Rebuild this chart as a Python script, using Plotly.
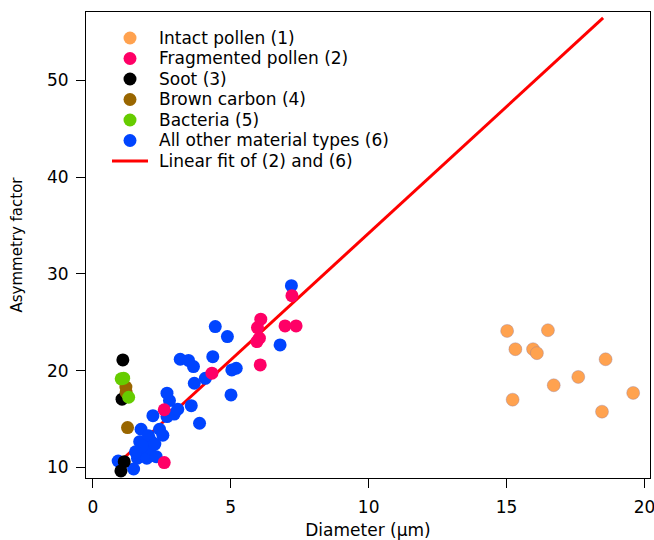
import plotly.graph_objects as go

# Intact pollen (1)
pollen_x = [15.02, 16.50, 15.32, 15.96, 16.10, 18.59, 17.60, 16.71, 15.22, 19.59, 18.46]
pollen_y = [24.10, 24.17, 22.21, 22.21, 21.80, 21.17, 19.34, 18.48, 16.99, 17.69, 15.75]

# Fragmented pollen (2)
frag_x = [2.59, 2.59, 4.32, 5.97, 6.09, 6.04, 5.95, 6.97, 7.37, 6.07, 7.22]
frag_y = [10.48, 15.95, 19.73, 24.45, 25.31, 23.35, 23.00, 24.62, 24.62, 20.58, 27.74]

# Soot (3)
soot_x = [1.09, 1.06, 1.14, 1.02]
soot_y = [21.10, 17.04, 10.58, 9.62]

# Brown carbon (4)
brown_x = [1.20, 1.21, 1.26]
brown_y = [18.30, 17.75, 14.10]

# Bacteria (5)
bact_x = [1.12, 1.30, 1.03]
bact_y = [19.21, 17.24, 19.15]

# All other material types (6)
other_x = [0.92, 1.48, 1.62, 1.72, 1.84, 1.96, 2.08, 1.70, 2.08, 1.75, 2.02, 2.42,
           2.54, 2.18, 2.69, 2.95, 3.08, 2.78, 2.69, 3.57, 3.87, 3.17, 3.47, 3.65,
           4.35, 4.08, 3.68, 5.04, 5.20, 5.01, 4.44, 4.88, 6.79, 7.20, 1.80, 2.25,
           1.55, 2.30]
other_y = [10.65, 9.82, 10.93, 11.45, 11.79, 10.93, 11.97, 12.65, 12.82, 13.93, 13.27, 13.93,
           13.31, 15.34, 15.24, 15.50, 16.00, 16.90, 17.66, 16.37, 14.55, 21.17, 21.05, 20.41,
           21.44, 19.20, 18.69, 20.07, 20.24, 17.48, 24.55, 23.51, 22.65, 28.78, 12.20, 12.40,
           11.60, 11.10]

# Linear fit of (2) and (6): y = slope * x + intercept over the plotted range
fit_slope = 2.62
fit_intercept = 8.0
fit_range = [1.0, 18.5]
fit_x = fit_range
fit_y = [fit_slope * v + fit_intercept for v in fit_range]

x_ticks = [0, 5, 10, 15, 20]
y_ticks = [10, 20, 30, 40, 50]

FONT = "DejaVu Sans, Arial, sans-serif"
FS = 17
MS = 13

# figure / plot-area geometry in pixels
W, H = 654, 540
ML, MR, MT, MB = 86, 4, 12, 62
PW, PH = W - ML - MR, H - MT - MB

COLORS = {
    "pollen": "#FFA24F",
    "frag": "#FF0066",
    "soot": "#000000",
    "brown": "#996600",
    "bact": "#66CC00",
    "other": "#0044FF",
    "fit": "#FF0000",
}

fig = go.Figure()

# drawing order: fit line beneath the markers
fig.add_trace(go.Scatter(x=fit_x, y=fit_y, mode="lines", name="Linear fit of (2) and (6)",
                         line=dict(color=COLORS["fit"], width=3)))
fig.add_trace(go.Scatter(x=other_x, y=other_y, mode="markers", name="All other material types (6)",
                         marker=dict(size=MS, color=COLORS["other"], line=dict(width=0))))
fig.add_trace(go.Scatter(x=soot_x, y=soot_y, mode="markers", name="Soot (3)",
                         marker=dict(size=MS, color=COLORS["soot"], line=dict(width=0))))
fig.add_trace(go.Scatter(x=brown_x, y=brown_y, mode="markers", name="Brown carbon (4)",
                         marker=dict(size=MS, color=COLORS["brown"], line=dict(width=0))))
fig.add_trace(go.Scatter(x=bact_x, y=bact_y, mode="markers", name="Bacteria (5)",
                         marker=dict(size=MS, color=COLORS["bact"], line=dict(width=0))))
fig.add_trace(go.Scatter(x=frag_x, y=frag_y, mode="markers", name="Fragmented pollen (2)",
                         marker=dict(size=MS, color=COLORS["frag"], line=dict(width=0))))
fig.add_trace(go.Scatter(x=pollen_x, y=pollen_y, mode="markers", name="Intact pollen (1)",
                         marker=dict(size=MS, color=COLORS["pollen"],
                                     line=dict(width=0.6, color="rgba(140,120,160,0.6)"))))

# compact legend drawn in the upper-left corner of the plot area
legend_entries = [
    ("Intact pollen (1)", "pollen", "dot"),
    ("Fragmented pollen (2)", "frag", "dot"),
    ("Soot (3)", "soot", "dot"),
    ("Brown carbon (4)", "brown", "dot"),
    ("Bacteria (5)", "bact", "dot"),
    ("All other material types (6)", "other", "dot"),
    ("Linear fit of (2) and (6)", "fit", "line"),
]


def px_to_paper(px, py):
    return (px - ML) / PW, (H - MB - py) / PH


shapes, annotations = [], []
row0, row_step = 38, 20.5
sym_x, text_x = 130, 157
for i, (label, key, kind) in enumerate(legend_entries):
    py = row0 + row_step * i
    sx, sy = px_to_paper(sym_x, py)
    if kind == "dot":
        shapes.append(dict(type="circle", xref="paper", yref="paper",
                           xsizemode="pixel", ysizemode="pixel", xanchor=sx, yanchor=sy,
                           x0=-MS / 2, x1=MS / 2, y0=-MS / 2, y1=MS / 2,
                           fillcolor=COLORS[key], line=dict(width=0)))
    else:
        lx0, ly = px_to_paper(112, py)
        lx1, _ = px_to_paper(148, py)
        shapes.append(dict(type="line", xref="paper", yref="paper",
                           x0=lx0, x1=lx1, y0=ly, y1=ly,
                           line=dict(color=COLORS[key], width=3)))
    tx, ty = px_to_paper(text_x, py)
    annotations.append(dict(text=label, xref="paper", yref="paper", x=tx, y=ty,
                            xanchor="left", yanchor="middle", showarrow=False,
                            font=dict(family=FONT, size=FS, color="black")))

axis_common = dict(showline=True, linecolor="black", linewidth=1, mirror=True,
                   ticks="outside", ticklen=9, tickwidth=1, tickcolor="black",
                   showgrid=False, zeroline=False, ticklabeloverflow="allow",
                   tickfont=dict(family=FONT, size=FS, color="black"))

fig.update_xaxes(range=[-0.246, 20.2], tickvals=x_ticks, ticklabelstandoff=5,
                 title=dict(text="Diameter (μm)", font=dict(family=FONT, size=FS, color="black"),
                            standoff=8),
                 **axis_common)
fig.update_yaxes(range=[8.89, 57.08], tickvals=y_ticks, ticklabelstandoff=4,
                 title=dict(text="Asymmetry factor", font=dict(family=FONT, size=15, color="black"),
                            standoff=20),
                 **axis_common)

fig.update_layout(
    width=W, height=H,
    margin=dict(l=ML, r=MR, t=MT, b=MB, autoexpand=False),
    paper_bgcolor="white", plot_bgcolor="white",
    font=dict(family=FONT, size=FS, color="black"),
    showlegend=False,
    shapes=shapes,
    annotations=annotations,
)

fig.write_html("out.html")
